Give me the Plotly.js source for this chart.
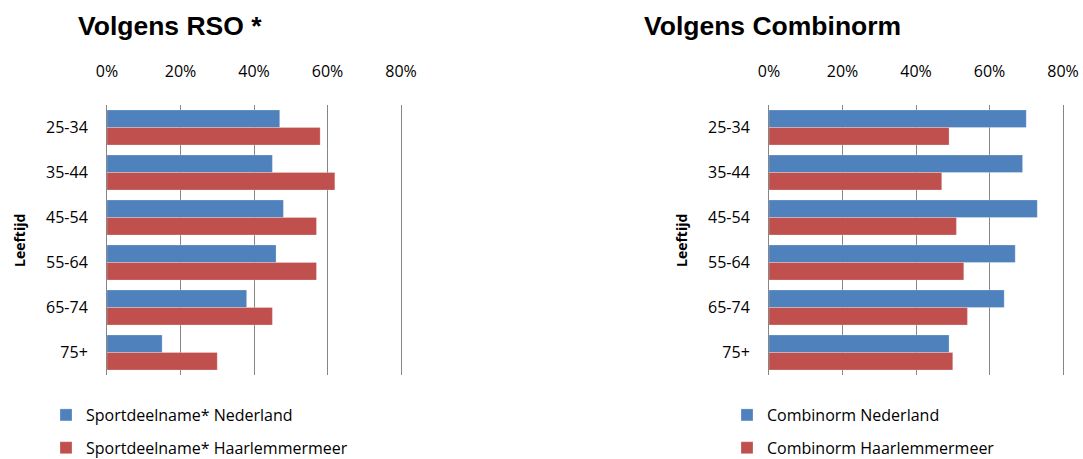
<!DOCTYPE html>
<html>
<head>
<meta charset="utf-8">
<script src="https://cdn.plot.ly/plotly-3.0.1.min.js"></script>
<style>
  body { margin: 0; background: #fff; }
  #chart { width: 1083px; height: 459px; }
</style>
</head>
<body>
<div id="chart"></div>
<script>
var ageGroups = ['25-34', '35-44', '45-54', '55-64', '65-74', '75+'];

// Volgens RSO *
var rsoNederland = [47, 45, 48, 46, 38, 15];
var rsoHaarlemmermeer = [58, 62, 57, 57, 45, 30];

// Volgens Combinorm
var combiNederland = [70, 69, 73, 67, 64, 49];
var combiHaarlemmermeer = [49, 47, 51, 53, 54, 50];

var pctTicks = [0, 20, 40, 60, 80];
var pctLabels = ['0%', '20%', '40%', '60%', '80%'];

var blue = '#4F81BD';
var red = '#C0504D';
var grid = '#868686';
var font = '"Open Sans", Lato, sans-serif';

function barTrace(vals, name, color, xa, ya, legend, group) {
    return {
        type: 'bar',
        orientation: 'h',
        x: vals,
        y: ageGroups,
        name: name,
        xaxis: xa,
        yaxis: ya,
        legend: legend,
        legendgroup: group,
        marker: {color: color, line: {color: 'rgba(255,255,255,0.5)', width: 0.5}},
        hoverinfo: 'x+y'
    };
}

var traces = [
    barTrace(rsoNederland, 'Sportdeelname* Nederland', blue, 'x', 'y', 'legend', 'a'),
    barTrace(rsoHaarlemmermeer, 'Sportdeelname* Haarlemmermeer', red, 'x', 'y', 'legend', 'b'),
    barTrace(combiNederland, 'Combinorm Nederland', blue, 'x2', 'y2', 'legend2', 'c'),
    barTrace(combiHaarlemmermeer, 'Combinorm Haarlemmermeer', red, 'x2', 'y2', 'legend2', 'd')
];

// range runs a little past 80% so the 80% gridline is not dropped at the edge
function xAxis(left, anchor) {
    var w = 294 * 81 / 80;
    return {
        domain: [left / 1083, (left + w) / 1083],
        anchor: anchor,
        side: 'top',
        range: [0, 81],
        tickvals: pctTicks,
        ticktext: pctLabels,
        showgrid: true,
        gridcolor: grid,
        gridwidth: 1,
        zeroline: false,
        showline: false,
        ticks: '',
        ticklabelstandoff: 24,
        tickfont: {family: font, size: 16, color: '#000'},
        fixedrange: true
    };
}

function yAxis(anchor) {
    return {
        domain: [1 - 375 / 459, 1 - 105 / 459],
        anchor: anchor,
        type: 'category',
        categoryorder: 'array',
        categoryarray: ageGroups,
        autorange: 'reversed',
        showline: true,
        linecolor: grid,
        linewidth: 1,
        showgrid: false,
        ticks: '',
        ticklabelstandoff: 15,
        tickfont: {family: font, size: 16, color: '#000'},
        fixedrange: true
    };
}

function legendAt(x) {
    return {
        x: x,
        y: 1 - 398 / 459,
        xanchor: 'left',
        yanchor: 'top',
        orientation: 'v',
        traceorder: 'grouped',
        tracegroupgap: 9,
        font: {family: font, size: 16, color: '#000'},
        bgcolor: 'rgba(0,0,0,0)',
        itemclick: false,
        itemdoubleclick: false
    };
}

function panelTitle(text, x) {
    return {
        text: '<b>' + text + '</b>',
        xref: 'paper', yref: 'paper',
        x: x, y: 1 - 26 / 459,
        xanchor: 'left', yanchor: 'middle',
        showarrow: false,
        font: {family: 'Liberation Sans, Arial, sans-serif', size: 26.5, color: '#000'}
    };
}

function axisTitle(x) {
    return {
        text: '<b>Leeftijd</b>',
        xref: 'paper', yref: 'paper',
        x: x, y: 1 - 241 / 459,
        xanchor: 'center', yanchor: 'middle',
        textangle: -90,
        showarrow: false,
        font: {family: font, size: 14, color: '#000'}
    };
}

var layout = {
    width: 1083,
    height: 459,
    autosize: false,
    margin: {l: 0, r: 0, t: 0, b: 0, pad: 0, autoexpand: false},
    paper_bgcolor: '#fff',
    plot_bgcolor: '#fff',
    barmode: 'group',
    bargap: 0.22,
    bargroupgap: 0,
    showlegend: true,
    xaxis: xAxis(107, 'y'),
    yaxis: yAxis('x'),
    xaxis2: xAxis(769, 'y2'),
    yaxis2: yAxis('x2'),
    legend: legendAt(46 / 1083),
    legend2: legendAt(727 / 1083),
    annotations: [
        panelTitle('Volgens RSO *', 76 / 1083),
        panelTitle('Volgens Combinorm', 642 / 1083),
        axisTitle(20 / 1083),
        axisTitle(682 / 1083)
    ]
};

Plotly.newPlot('chart', traces, layout, {displayModeBar: false});
</script>
</body>
</html>
